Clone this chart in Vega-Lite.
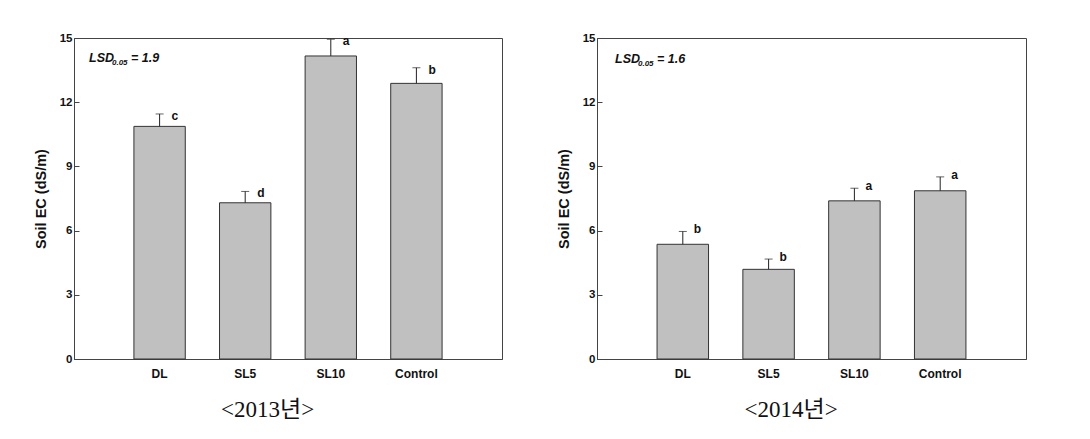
{
  "$schema": "https://vega.github.io/schema/vega-lite/v6.json",
  "background": "white",
  "padding": {"left": 32, "top": 31, "right": 5, "bottom": 5},
  "config": {
    "view": {"stroke": "#444", "strokeWidth": 1},
    "font": "Liberation Sans",
    "axis": {"labelFont": "Liberation Sans", "titleFont": "Liberation Sans", "labelFontWeight": "bold", "titleFontWeight": "bold", "labelColor": "#111", "titleColor": "#111", "domainColor": "#444", "tickColor": "#444", "grid": false}
  },
  "datasets": {
    "ec": [
      {"year": "2013", "trt": "DL", "mean": 10.87, "upper": 11.45, "letter": "c"},
      {"year": "2013", "trt": "SL5", "mean": 7.3, "upper": 7.83, "letter": "d"},
      {"year": "2013", "trt": "SL10", "mean": 14.16, "upper": 14.94, "letter": "a"},
      {"year": "2013", "trt": "Control", "mean": 12.88, "upper": 13.61, "letter": "b"},
      {"year": "2014", "trt": "DL", "mean": 5.36, "upper": 5.96, "letter": "b"},
      {"year": "2014", "trt": "SL5", "mean": 4.19, "upper": 4.67, "letter": "b"},
      {"year": "2014", "trt": "SL10", "mean": 7.39, "upper": 7.98, "letter": "a"},
      {"year": "2014", "trt": "Control", "mean": 7.86, "upper": 8.51, "letter": "a"}
    ],
    "lsd": [
      {"year": "2013", "main": "LSD", "sub": "0.05", "val": "= 1.9"},
      {"year": "2014", "main": "LSD", "sub": "0.05", "val": "= 1.6"}
    ]
  },
  "spacing": 52,
  "hconcat": [
    {
      "width": 428, "height": 321,
      "title": {"text": "<2013년>", "orient": "bottom", "font": "Liberation Serif, Noto Sans CJK KR", "fontSize": 23, "fontWeight": "normal", "anchor": "middle", "frame": "bounds", "offset": 20, "color": "#111"},
      "layer": [
        {
          "data": {"name": "ec"},
          "transform": [{"filter": "datum.year == '2013'"}],
          "encoding": {
            "x": {"field": "trt", "type": "nominal", "sort": ["DL", "SL5", "SL10", "Control"], "scale": {"paddingInner": 0.4, "paddingOuter": 0.7},
              "axis": {"title": null, "labelAngle": 0, "ticks": false, "labelFontSize": 12, "labelPadding": 9}}
          },
          "layer": [
            {"mark": {"type": "bar", "fill": "#c0c0c0", "stroke": "#333", "strokeWidth": 1},
             "encoding": {"y": {"field": "mean", "type": "quantitative", "scale": {"domain": [0, 15], "nice": false},
               "axis": {"title": "Soil EC (dS/m)", "values": [0, 3, 6, 9, 12, 15], "tickSize": -5, "labelPadding": 7, "labelFontSize": 11.5, "titleFontSize": 14.5, "titlePadding": 11}}}},
            {"mark": {"type": "rule", "color": "#222", "strokeWidth": 1},
             "encoding": {"y": {"field": "mean", "type": "quantitative"}, "y2": {"field": "upper"}}},
            {"mark": {"type": "tick", "size": 8, "thickness": 1, "color": "#222"},
             "encoding": {"y": {"field": "upper", "type": "quantitative"}}},
            {"mark": {"type": "text", "align": "left", "baseline": "middle", "dx": 12, "dy": 2, "fontWeight": "bold", "fontSize": 12, "color": "#111"},
             "encoding": {"y": {"field": "upper", "type": "quantitative"}, "text": {"field": "letter"}}}
          ]
        },
        {
          "data": {"name": "lsd"},
          "transform": [{"filter": "datum.year == '2013'"}],
          "layer": [
            {"mark": {"type": "text", "align": "left", "baseline": "alphabetic", "fontWeight": "bold", "fontStyle": "italic", "fontSize": 12.5, "color": "#111"},
             "encoding": {"x": {"value": 15}, "y": {"value": 24}, "text": {"field": "main"}}},
            {"mark": {"type": "text", "align": "left", "baseline": "alphabetic", "fontWeight": "bold", "fontStyle": "italic", "fontSize": 8, "color": "#111"},
             "encoding": {"x": {"value": 38}, "y": {"value": 27}, "text": {"field": "sub"}}},
            {"mark": {"type": "text", "align": "left", "baseline": "alphabetic", "fontWeight": "bold", "fontStyle": "italic", "fontSize": 12.5, "color": "#111"},
             "encoding": {"x": {"value": 57}, "y": {"value": 24}, "text": {"field": "val"}}}
          ]
        }
      ]
    },
    {
      "width": 429, "height": 321,
      "title": {"text": "<2014년>", "orient": "bottom", "font": "Liberation Serif, Noto Sans CJK KR", "fontSize": 23, "fontWeight": "normal", "anchor": "middle", "frame": "bounds", "offset": 20, "color": "#111"},
      "layer": [
        {
          "data": {"name": "ec"},
          "transform": [{"filter": "datum.year == '2014'"}],
          "encoding": {
            "x": {"field": "trt", "type": "nominal", "sort": ["DL", "SL5", "SL10", "Control"], "scale": {"paddingInner": 0.4, "paddingOuter": 0.7},
              "axis": {"title": null, "labelAngle": 0, "ticks": false, "labelFontSize": 12, "labelPadding": 9}}
          },
          "layer": [
            {"mark": {"type": "bar", "fill": "#c0c0c0", "stroke": "#333", "strokeWidth": 1},
             "encoding": {"y": {"field": "mean", "type": "quantitative", "scale": {"domain": [0, 15], "nice": false},
               "axis": {"title": "Soil EC (dS/m)", "values": [0, 3, 6, 9, 12, 15], "tickSize": -5, "labelPadding": 7, "labelFontSize": 11.5, "titleFontSize": 14.5, "titlePadding": 11}}}},
            {"mark": {"type": "rule", "color": "#222", "strokeWidth": 1},
             "encoding": {"y": {"field": "mean", "type": "quantitative"}, "y2": {"field": "upper"}}},
            {"mark": {"type": "tick", "size": 8, "thickness": 1, "color": "#222"},
             "encoding": {"y": {"field": "upper", "type": "quantitative"}}},
            {"mark": {"type": "text", "align": "left", "baseline": "middle", "dx": 11, "dy": -2, "fontWeight": "bold", "fontSize": 12, "color": "#111"},
             "encoding": {"y": {"field": "upper", "type": "quantitative"}, "text": {"field": "letter"}}}
          ]
        },
        {
          "data": {"name": "lsd"},
          "transform": [{"filter": "datum.year == '2014'"}],
          "layer": [
            {"mark": {"type": "text", "align": "left", "baseline": "alphabetic", "fontWeight": "bold", "fontStyle": "italic", "fontSize": 12.5, "color": "#111"},
             "encoding": {"x": {"value": 18}, "y": {"value": 25}, "text": {"field": "main"}}},
            {"mark": {"type": "text", "align": "left", "baseline": "alphabetic", "fontWeight": "bold", "fontStyle": "italic", "fontSize": 8, "color": "#111"},
             "encoding": {"x": {"value": 41}, "y": {"value": 28}, "text": {"field": "sub"}}},
            {"mark": {"type": "text", "align": "left", "baseline": "alphabetic", "fontWeight": "bold", "fontStyle": "italic", "fontSize": 12.5, "color": "#111"},
             "encoding": {"x": {"value": 60}, "y": {"value": 25}, "text": {"field": "val"}}}
          ]
        }
      ]
    }
  ]
}
